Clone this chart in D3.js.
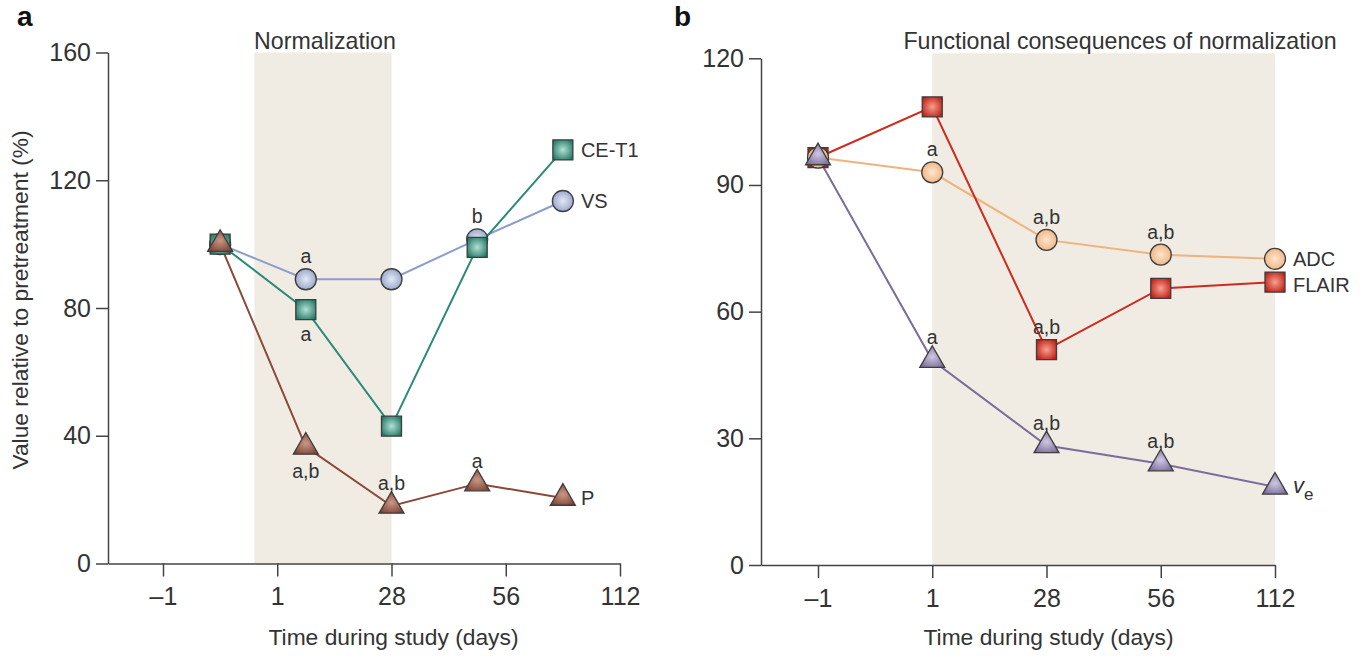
<!DOCTYPE html>
<html>
<head>
<meta charset="utf-8">
<script src="https://cdn.jsdelivr.net/npm/d3@7"></script>
<style>
    body { margin: 0; background: #fff; }
    svg { display: block; }
    text { font-family: "Liberation Sans", Arial, sans-serif; fill: #333; }
    .axis path, .axis line { stroke: #444; stroke-width: 1.5; }
    .axis text { font-size: 25px; fill: #333; }
</style>
</head>
<body>
<svg id="chart" width="1370" height="656"></svg>
<script>
// shared category axis
var timeLabels = ["\u20131", "1", "28", "56", "112"];
var timeIndex = [0, 1, 2, 3, 4];

// panel a: measurements sit between the day ticks
var aPos = [0.5, 1.25, 2, 2.75, 3.5];
var aVS = [100, 89, 89, 101.5, 113.5];
var aCET1 = [100, 79.5, 43, 99, 129.5];
var aP = [100, 36.5, 18, 25, 20.5];
var aTicks = [0, 40, 80, 120, 160];
var aBand = [0.8, 2];
// [series, point, text, side]
var aNotes = [
    ["VS", 1, "a", "above"],
    ["CE-T1", 1, "a", "below"],
    ["P", 1, "a,b", "below"],
    ["P", 2, "a,b", "above"],
    ["P", 3, "a", "above"],
    ["VS", 3, "b", "above"]
];

// panel b
var bPos = [0, 1, 2, 3, 4];
var bADC = [96.5, 93, 77, 73.5, 72.5];
var bFLAIR = [96.5, 108.5, 51, 65.5, 67];
var bVe = [96.5, 48.5, 28.3, 24, 18.5];
var bTicks = [0, 30, 60, 90, 120];
var bBand = [1, 4];
var bNotes = [
    ["ADC", 1, "a", "above"],
    ["ADC", 2, "a,b", "above"],
    ["ADC", 3, "a,b", "above"],
    ["ve", 1, "a", "above"],
    ["FLAIR", 2, "a,b", "above"],
    ["ve", 2, "a,b", "above"],
    ["ve", 3, "a,b", "above"]
];

var svg = d3.select("#chart");
var defs = svg.append("defs");

//Radial fills give the markers their lit look
function addGradient(id, inner, outer) {
    var g = defs.append("radialGradient")
        .attr("id", id)
        .attr("cx", "50%").attr("cy", "50%").attr("r", "60%");
    g.append("stop").attr("offset", "0%").attr("stop-color", inner);
    g.append("stop").attr("offset", "100%").attr("stop-color", outer);
}
addGradient("gVS", "#e4e9f4", "#8e9dc6");
addGradient("gCE", "#b4e0d4", "#237a66");
addGradient("gP", "#c99888", "#7e4232");
addGradient("gADC", "#fde6cf", "#eeae78");
addGradient("gFLAIR", "#f6a090", "#c21f14");
addGradient("gVe", "#cfc8e2", "#7a6d9c");

var symbols = {
    circle: d3.symbol().type(d3.symbolCircle).size(Math.PI * 10.5 * 10.5),
    square: d3.symbol().type(d3.symbolSquare).size(20 * 20),
    triangle: d3.symbol().type(d3.symbolTriangle).size(270)
};

function drawPanel(p) {
    var x = d3.scaleLinear()
        .domain([-p.axisLead, 4])
        .range([p.left, p.right]);
    var y = d3.scaleLinear()
        .domain([0, p.yMax])
        .range([p.bottom, p.top]);

    var g = svg.append("g");

    //shaded period
    g.append("rect")
        .attr("x", x(p.band[0]))
        .attr("y", y(p.bandTop))
        .attr("width", x(p.band[1]) - x(p.band[0]))
        .attr("height", y(0) - y(p.bandTop))
        .attr("fill", "#f0ebe3");

    g.append("text")
        .attr("x", p.titleX)
        .attr("y", 49)
        .attr("text-anchor", "middle")
        .attr("font-size", "23.2px")
        .text(p.title);

    g.append("text")
        .attr("x", p.letterX)
        .attr("y", 26)
        .attr("font-size", "28px")
        .attr("font-weight", "bold")
        .style("fill", "#111")
        .text(p.letter);

    g.append("g")
        .attr("class", "axis")
        .attr("transform", "translate(" + p.left + ",0)")
        .call(d3.axisLeft(y).tickValues(p.ticks).tickSize(12).tickSizeOuter(0).tickPadding(5));

    g.append("g")
        .attr("class", "axis")
        .attr("transform", "translate(0," + y(0) + ")")
        .call(d3.axisBottom(x).tickValues(timeIndex).tickFormat(function (d) { return timeLabels[d]; })
            .tickSize(13).tickSizeOuter(0).tickPadding(11));

    g.append("text")
        .attr("x", x(2) + 2)
        .attr("y", 645)
        .attr("text-anchor", "middle")
        .attr("font-size", "22.8px")
        .text("Time during study (days)");

    if (p.yTitle) {
        g.append("text")
            .attr("transform", "translate(28," + 300 + ") rotate(-90)")
            .attr("text-anchor", "middle")
            .attr("font-size", "22.8px")
            .text(p.yTitle);
    }

    var line = d3.line()
        .x(function (d) { return x(d[0]); })
        .y(function (d) { return y(d[1]); });

    p.series.forEach(function (s) {
        g.append("path")
            .datum(d3.zip(p.pos, s.values))
            .attr("d", line)
            .attr("fill", "none")
            .attr("stroke", s.color)
            .attr("stroke-width", 2);
    });

    p.markerOrder.forEach(function (i) {
        var s = p.series[i];
        g.selectAll(null)
            .data(d3.zip(p.pos, s.values))
            .enter().append("path")
            .attr("d", symbols[s.shape])
            .attr("transform", function (d) { return "translate(" + x(d[0]) + "," + y(d[1]) + ")"; })
            .attr("fill", "url(#" + s.grad + ")")
            .attr("stroke", "#3d3d3d")
            .attr("stroke-width", 1.3);
    });

    //series names at the right end
    p.series.forEach(function (s) {
        var n = s.values.length - 1;
        var t = g.append("text")
            .attr("x", x(p.pos[n]) + 18)
            .attr("y", y(s.values[n]) + s.labelDy)
            .attr("dy", "0.36em")
            .attr("font-size", "20px");
        if (s.name === "ve") {
            t.append("tspan").attr("font-style", "italic").attr("font-size", "22px").text("v");
            t.append("tspan").attr("font-size", "17px").attr("dy", "7").text("e");
        } else {
            t.text(s.name);
        }
    });

    //significance marks
    p.notes.forEach(function (nt) {
        var s = p.series.filter(function (d) { return d.name === nt[0]; })[0];
        var py = y(s.values[nt[1]]);
        g.append("text")
            .attr("x", x(p.pos[nt[1]]))
            .attr("y", nt[3] === "above" ? py - 16 : py + 31)
            .attr("text-anchor", "middle")
            .attr("font-size", "19.5px")
            .text(nt[2]);
    });
}

drawPanel({
    letter: "a", letterX: 17,
    title: "Normalization", titleX: 325,
    yTitle: "Value relative to pretreatment (%)",
    left: 108, right: 620, top: 52.5, bottom: 563.5,
    axisLead: 55 / 114.25,
    yMax: 160, bandTop: 160, ticks: aTicks, band: aBand,
    pos: aPos, notes: aNotes,
    series: [
        { name: "VS", values: aVS, shape: "circle", grad: "gVS", color: "#8c9dca", labelDy: 0 },
        { name: "CE-T1", values: aCET1, shape: "square", grad: "gCE", color: "#2b8a76", labelDy: 0 },
        { name: "P", values: aP, shape: "triangle", grad: "gP", color: "#8a4838", labelDy: 0 }
    ],
    markerOrder: [0, 1, 2]
});

drawPanel({
    letter: "b", letterX: 674,
    title: "Functional consequences of normalization", titleX: 1120,
    yTitle: null,
    left: 761, right: 1275, top: 58.3, bottom: 565,
    axisLead: 57 / 114.25,
    yMax: 120, bandTop: 121.2, ticks: bTicks, band: bBand,
    pos: bPos, notes: bNotes,
    series: [
        { name: "ADC", values: bADC, shape: "circle", grad: "gADC", color: "#f1b27c", labelDy: 0 },
        { name: "FLAIR", values: bFLAIR, shape: "square", grad: "gFLAIR", color: "#cf2a1d", labelDy: 3 },
        { name: "ve", values: bVe, shape: "triangle", grad: "gVe", color: "#7b6c9c", labelDy: -1 }
    ],
    markerOrder: [1, 0, 2]
});
</script>
</body>
</html>
